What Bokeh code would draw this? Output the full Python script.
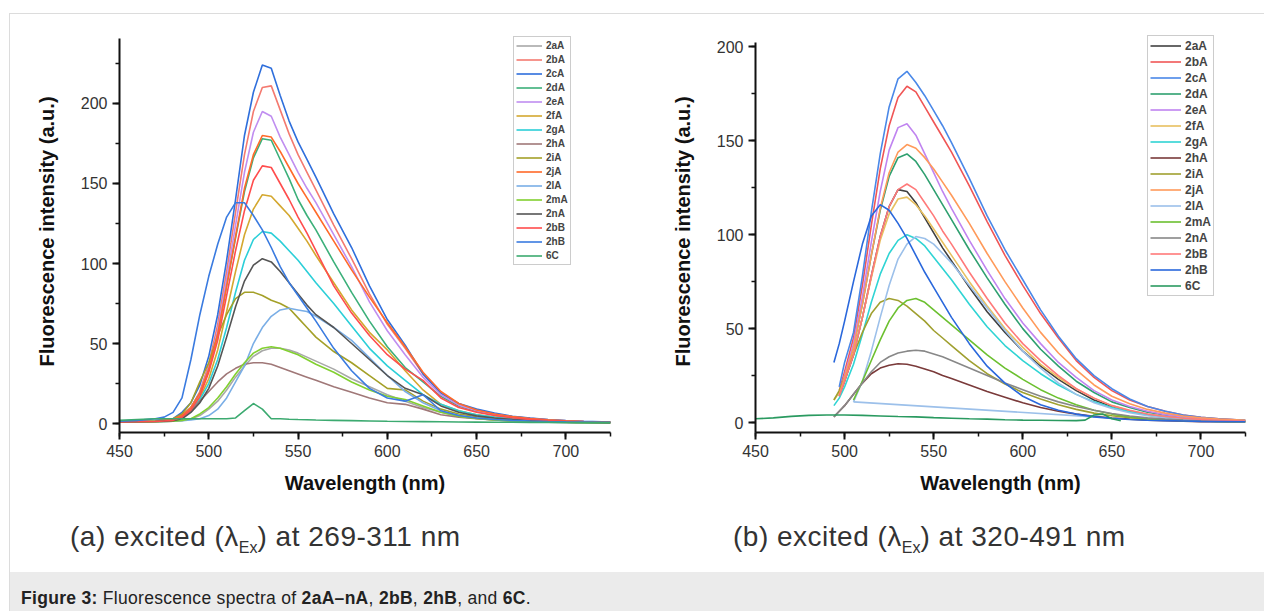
from bokeh.plotting import figure
from bokeh.models import Range1d, SingleIntervalTicker, Div, Spacer
from bokeh.layouts import row, column
from bokeh.embed import file_html
from bokeh.resources import INLINE

nan = float("nan")

# ---------------- data: panel (a), excitation 269-311 nm ----------------
wl_a = [450, 460, 470, 475, 480, 485, 490, 495, 500, 505, 510, 515, 520, 525, 530,
        535, 540, 545, 550, 555, 560, 570, 580, 590, 600, 610, 620, 630, 640,
        650, 660, 670, 680, 690, 700, 710, 725]
a_2aA = [1, 1, 1.1, 1.2, 1.4, 1.8, 2.8, 5, 9, 14, 21, 29, 36, 42, 45.5,
         47, 47, 46, 44, 41.5, 39, 34, 28, 23, 18, 14, 10, 7, 4.5,
         3.2, 2.3, 1.7, 1.3, 1, 0.8, 0.6, 0.5]
a_2bA = [1.2, 1.3, 1.5, 2, 2.5, 5, 10, 20, 37, 62, 95, 132, 168, 195, 210,
         211, 196, 181, 168, 157, 146, 124, 103, 81, 62, 47, 31, 19, 12,
         8.5, 6, 4.3, 3.2, 2.4, 1.7, 1.3, 1.0]
a_2cA = [1.5, 1.5, 2, 2.5, 3, 7, 13, 24, 42, 68, 102, 140, 180, 207, 224,
         222, 205, 189, 176, 165, 154, 131, 110, 86, 65, 49, 31, 19, 12.5,
         9, 6.5, 4.5, 3.4, 2.5, 1.8, 1.4, 1.0]
a_2dA = [1, 1.2, 1.5, 2, 2.5, 5, 10, 19, 34, 56, 86, 116, 145, 166, 178,
         177, 165, 153, 140, 130, 121, 101, 82, 64, 48, 35, 26, 17, 11,
         7.5, 5.3, 3.8, 2.8, 2, 1.5, 1.1, 0.8]
a_2eA = [1.2, 1.3, 1.5, 2, 2.5, 5, 10, 19, 35, 58, 90, 124, 157, 182, 195,
         192, 179, 168, 157, 147, 138, 118, 98, 76, 58, 43, 29, 18, 11.5,
         8, 5.7, 4.1, 3, 2.2, 1.6, 1.2, 0.9]
a_2fA = [1, 1.1, 1.3, 1.6, 2, 4, 8, 16, 28, 46, 70, 95, 118, 134, 143,
         142, 136, 130, 122, 114, 105, 88, 71, 57, 46, 33, 21, 12, 8,
         5.5, 4, 2.9, 2.1, 1.6, 1.2, 0.9, 0.7]
a_2gA = [1, 1.1, 1.4, 1.8, 2.5, 4, 8, 15, 25, 40, 60, 82, 102, 115, 120,
         119, 114, 108, 102, 95, 88, 75, 61, 47, 36, 27, 18, 12, 8,
         5.5, 4, 2.9, 2.1, 1.6, 1.2, 0.9, 0.7]
a_2hA = [1, 1.1, 1.3, 1.5, 2, 4, 8, 14, 20, 26, 31, 34.5, 37, 38, 38,
         37, 35, 33, 31, 29, 27, 23, 19.5, 16, 13, 12, 9, 5.5, 4,
         3, 2.2, 1.6, 1.2, 0.9, 0.7, 0.5, 0.4]
a_2iA = [1, 1.2, 1.6, 2, 3, 6, 13, 26, 38, 55, 68, 78, 82, 82, 80,
         77, 75, 72, 66, 60, 54, 45, 38, 30, 22, 21, 14, 9, 6,
         4.2, 3, 2.2, 1.6, 1.2, 0.9, 0.7, 0.5]
a_2jA = [1, 1.2, 1.5, 2, 2.5, 5, 10, 19, 34, 56, 86, 117, 147, 168, 180,
         179, 170, 160, 150, 141, 132, 114, 96, 79, 63, 48, 32, 20, 12.5,
         8.5, 6, 4.3, 3.1, 2.3, 1.7, 1.3, 1.0]
a_2lA = [1, 1, 1.2, 1.3, 1.5, 1.8, 2.2, 3, 5, 9, 16, 26, 36, 50, 60,
         67, 71, 72, 71, 70, 67, 60, 52, 41, 30, 20, 13, 8, 5,
         3.5, 2.5, 1.8, 1.3, 1, 0.8, 0.6, 0.5]
a_2mA = [1, 1, 1.2, 1.3, 1.5, 2, 3, 6, 10, 16, 23, 31, 38, 44, 47,
         48, 47, 45, 43, 40, 37, 32, 26, 21, 17, 15, 11, 7, 4.5,
         3.2, 2.3, 1.7, 1.3, 1, 0.8, 0.6, 0.5]
a_2nA = [1, 1.1, 1.3, 1.5, 1.8, 3, 7, 13, 22, 36, 54, 73, 89, 99, 103,
         101, 95, 88, 81, 74, 68, 60, 50, 40, 30, 22, 18, 11, 7,
         4.8, 3.5, 2.6, 1.9, 1.4, 1.1, 0.8, 0.6]
a_2bB = [1, 1.1, 1.3, 1.6, 2, 4, 8.5, 17, 32, 52, 80, 108, 133, 152, 161,
         160, 150, 140, 129, 119, 108, 86, 69, 55, 43, 34, 27, 16, 10,
         7, 5, 3.6, 2.6, 1.9, 1.4, 1.1, 0.8]
a_2hB = [1.5, 2, 3, 4, 7, 16, 40, 68, 92, 112, 129, 138, 138, 130, 121,
         110, 98, 88, 80, 72, 64, 47, 33, 22, 16, 14, 18, 8, 5,
         3.5, 2.5, 2, 1.6, 1.3, 1.1, 1, 0.8]
a_6C = [2, 2.5, 3, 3, 3, 3, 3, 3, 3, 3, 3, 3.5, 8, 12.5, 9,
        3, 3, 2.7, 2.5, 2.4, 2.2, 2, 1.8, 1.6, 1.4, 1.3, 1.2, 1.1, 1,
        0.9, 0.8, 0.8, 0.7, 0.7, 0.6, 0.6, 0.6]

# ---------------- data: panel (b), excitation 320-491 nm ----------------
wl_b = [494, 497, 500, 505, 510, 515, 520, 525, 530, 535, 540, 545, 550, 555, 560,
        570, 580, 590, 600, 610, 620, 630, 640, 650, 660, 670, 680, 690, 700, 710, 725]
b_2aA = [nan, 14, 22, 36, 56, 78, 99, 115, 124, 123, 117, 109, 101, 93, 86,
         72, 59, 48, 38, 30, 23, 17, 12, 8.5, 6, 4.2, 3, 2.1, 1.5, 1.1, 0.7]
b_2bA = [nan, 17, 27, 45, 73, 105, 135, 158, 173, 179, 176, 168, 160, 152, 144,
         126, 107, 89, 73, 58, 45, 33, 24, 17, 12, 8.5, 6, 4, 2.8, 2, 1.2]
b_2cA = [nan, 19, 32, 48, 78, 112, 143, 168, 183, 187, 181, 174, 166, 158, 149,
         130, 110, 92, 76, 60, 46, 34, 25, 18, 12.5, 8.5, 6, 4, 2.8, 2, 1.2]
b_2dA = [nan, 15, 24, 40, 63, 89, 113, 131, 141, 143, 139, 132, 124, 116, 108,
         92, 77, 63, 50, 39, 30, 22, 16, 11, 8, 5.5, 4, 2.8, 2, 1.5, 1]
b_2eA = [nan, 16, 25, 42, 67, 96, 123, 145, 157, 159, 153, 143, 133, 123, 114,
         97, 81, 66, 53, 42, 32, 24, 17, 12, 8.5, 6, 4.2, 3, 2.2, 1.6, 1]
b_2fA = [12, 16, 23, 37, 56, 77, 97, 111, 119, 120, 116, 110, 103, 96, 89,
         75, 62, 50, 40, 31, 24, 18, 13, 9, 6.3, 4.4, 3.1, 2.2, 1.6, 1.1, 0.7]
b_2gA = [9, 13, 19, 31, 47, 64, 79, 90, 97, 100, 98, 94, 88, 82, 76,
         63, 51, 41, 33, 26, 20, 15, 11, 8, 5.7, 4, 2.8, 2, 1.4, 1, 0.7]
b_2hA = [3, 6, 9, 15, 21, 26, 29, 30.5, 31.3, 31, 30, 28.5, 27, 25, 23.5,
         20, 16.5, 13.5, 10.5, 8, 6, 4.5, 3.3, 2.4, 1.8, 1.3, 1, 0.7, 0.5, 0.4, 0.3]
b_2iA = [12, 17, 24, 36, 48, 58, 64, 66, 65, 62, 58, 54, 49, 45, 41,
         33, 26, 20.5, 16, 12.5, 9.5, 7, 5, 3.6, 2.6, 1.9, 1.4, 1, 0.8, 0.6, 0.4]
b_2jA = [nan, 15, 24, 40, 63, 89, 114, 133, 144, 148, 146, 141, 135, 128, 121,
         106, 90, 75, 61, 48, 37, 28, 20, 14, 10, 7, 5, 3.5, 2.5, 1.8, 1.2]
b_2lA = [nan, nan, nan, 11, 22, 38, 56, 73, 87, 95, 99, 98, 95, 90, 85,
         73, 61, 49, 38, 29, 21, 15, 10.5, 7.5, 5.2, 3.6, 2.5, 1.8, 1.3, 0.9, 0.6]
b_2lA_return_wl = [640, 505]
b_2lA_return = [3, 11]
b_2mA = [nan, nan, nan, 12, 22, 33, 44, 54, 61, 65, 66, 64, 60, 56, 52,
         44, 36, 29, 23, 17.5, 13, 9.5, 6.5, 4.5, 3, 2.1, 1.5, 1.1, 0.8, 0.6, 0.4]
b_2nA = [3, 6, 9, 15, 21, 27, 32, 35, 37, 38, 38.5, 38, 36.5, 35, 33,
         29, 25, 21, 17.5, 14, 11, 8.5, 6.5, 4.8, 3.5, 2.5, 1.8, 1.3, 1, 0.7, 0.5]
b_2bB = [nan, 14, 22, 36, 56, 78, 99, 115, 124, 127, 124, 117, 110, 102, 95,
         80, 66, 53, 42, 33, 25, 18, 13, 9, 6.5, 4.5, 3.2, 2.3, 1.7, 1.2, 0.8]
b_2hB = [32, 42, 54, 75, 95, 110, 116, 113, 106, 98, 89, 80, 72, 64, 56,
         42, 30, 21, 14, 9.5, 6.5, 4.5, 3, 2.2, 1.6, 1.2, 1, 0.8, 0.6, 0.5, 0.4]
wl_b_6C = [450, 460, 470, 480, 490, 500, 510, 520, 530, 540, 550, 560, 570, 580,
           590, 600, 610, 620, 630, 635, 640, 645, 650, 655]
b_6C = [2, 2.5, 3.3, 3.8, 4, 4, 3.8, 3.5, 3.2, 3, 2.6, 2.3, 2, 1.8,
        1.5, 1.3, 1.2, 1.1, 1, 1.3, 4, 4.5, 2, 1]

names = ["2aA", "2bA", "2cA", "2dA", "2eA", "2fA", "2gA", "2hA", "2iA", "2jA",
         "2lA", "2mA", "2nA", "2bB", "2hB", "6C"]
colors_a = ["#a8a8a8", "#f47a70", "#2f6fdc", "#3cb07a", "#c08ef0", "#d4a830",
            "#2ccfd8", "#a07878", "#a4a028", "#ff6a2a", "#7aaee6", "#82d030",
            "#555555", "#ff4d4d", "#3a7be0", "#3caa70"]
colors_b = ["#404040", "#f05656", "#4a88e8", "#2fa070", "#c084f0", "#e8c060",
            "#30d4d4", "#7a3a3a", "#a0a030", "#ff9a5a", "#9cc0ea", "#6cc030",
            "#888888", "#ff7a7a", "#2a68dc", "#2a9a60"]

series_a = [a_2aA, a_2bA, a_2cA, a_2dA, a_2eA, a_2fA, a_2gA, a_2hA, a_2iA, a_2jA,
            a_2lA, a_2mA, a_2nA, a_2bB, a_2hB, a_6C]
series_b = [b_2aA, b_2bA, b_2cA, b_2dA, b_2eA, b_2fA, b_2gA, b_2hA, b_2iA, b_2jA,
            b_2lA, b_2mA, b_2nA, b_2bB, b_2hB]

FONT = "Liberation Sans"


def style(p, ybounds):
    p.xaxis.axis_label = "Wavelength (nm)"
    p.yaxis.axis_label = "Fluorescence intensity (a.u.)"
    p.xaxis.ticker = SingleIntervalTicker(interval=50, num_minor_ticks=2)
    p.yaxis.ticker = SingleIntervalTicker(interval=50, num_minor_ticks=2)
    p.yaxis.bounds = ybounds
    for ax in (p.xaxis, p.yaxis):
        ax.axis_line_width = 2
        ax.axis_line_color = "#111111"
        ax.major_tick_line_width = 2
        ax.major_tick_line_color = "#111111"
        ax.minor_tick_line_width = 1.5
        ax.minor_tick_line_color = "#111111"
        ax.major_tick_out = 7
        ax.major_tick_in = 0
        ax.minor_tick_out = 4
        ax.minor_tick_in = 0
        ax.major_label_text_font = FONT
        ax.major_label_text_font_size = "16px"
        ax.major_label_text_color = "#333333"
        ax.major_label_standoff = 5
        ax.axis_label_text_font = FONT
        ax.axis_label_text_font_style = "bold"
        ax.axis_label_text_font_size = "20px"
        ax.axis_label_text_color = "#111111"
    p.xaxis.axis_label_standoff = 12
    p.yaxis.axis_label_standoff = 20
    p.xgrid.visible = False
    p.ygrid.visible = False
    p.outline_line_color = None
    p.background_fill_color = "white"
    p.border_fill_color = "white"


def style_legend(p, loc, fsize, lh, gw, pad):
    lg = p.legend[0]
    lg.location = loc
    lg.label_text_font = FONT
    lg.label_text_font_style = "bold"
    lg.label_text_font_size = fsize
    lg.label_height = lh
    lg.glyph_height = lh
    lg.glyph_width = gw
    lg.label_standoff = 4
    lg.spacing = 1
    lg.padding = pad
    lg.margin = 0
    lg.border_line_color = "#9a9a9a"
    lg.border_line_width = 1
    lg.background_fill_alpha = 1


# panel (a): page x 10..651, frame x 119..610, y 30..432 (axis line to 240.6 only)
pa = figure(width=641, height=490, output_backend="svg", toolbar_location=None,
            x_range=Range1d(450, 725), y_range=Range1d(-5.6, 245.6),
            min_border_left=109, min_border_right=41, min_border_top=16,
            min_border_bottom=72)
style(pa, (-5.6, 240.6))
for nm, col, ys in zip(names, colors_a, series_a):
    pa.line(wl_a, ys, line_color=col, line_width=1.6, legend_label=nm)
style_legend(pa, (394, 167), "10px", 13, 26, 2)

# panel (b): page x 651..1264, frame x 755..1245, y 30..432 (axis line to 202.3 only)
pb = figure(width=613, height=490, output_backend="svg", toolbar_location=None,
            x_range=Range1d(450, 725), y_range=Range1d(-5.3, 208.7),
            min_border_left=104, min_border_right=19, min_border_top=16,
            min_border_bottom=72)
style(pb, (-5.3, 202.3))
for i, (nm, col) in enumerate(zip(names, colors_b)):
    if nm == "6C":
        pb.line(wl_b_6C, b_6C, line_color=col, line_width=1.6, legend_label=nm)
    else:
        pb.line(wl_b, series_b[i], line_color=col, line_width=1.6, legend_label=nm)
        if nm == "2lA":
            pb.line(b_2lA_return_wl, b_2lA_return, line_color=col, line_width=1.6)
style_legend(pb, (392, 136), "12px", 15, 31, 2)

sub_css = ("font-family:'Liberation Sans',Arial,sans-serif;font-size:28px;color:#333;"
           "letter-spacing:0.5px;line-height:32px;white-space:nowrap;padding-top:17px;")
sub_span = "<span style='font-size:16px;position:relative;top:7px;letter-spacing:0'>Ex</span>"
div_a = Div(width=641, height=68, margin=0,
            text=f"<div style=\"{sub_css}padding-left:60px\">(a) excited (&lambda;{sub_span}) at 269-311 nm</div>")
div_b = Div(width=613, height=68, margin=0,
            text=f"<div style=\"{sub_css}padding-left:82px\">(b) excited (&lambda;{sub_span}) at 320-491 nm</div>")
caption = Div(width=1254, height=39, margin=0, styles={"background-color": "#ebebeb"},
              text="<div style=\"font-family:'Liberation Sans',Arial,sans-serif;font-size:17.5px;"
                   "letter-spacing:0.3px;color:#222;padding:14px 0 0 11px;white-space:nowrap\"><b>Figure 3:</b> "
                   "Fluorescence spectra of <b>2aA&ndash;nA</b>, <b>2bB</b>, <b>2hB</b>, and <b>6C</b>.</div>")

framed = column(row(pa, pb), row(div_a, div_b), caption,
                styles={"border-top": "1px solid #dcdcdc", "border-left": "1px solid #dcdcdc",
                        "background-color": "white"})
layout = column(Spacer(height=13), row(Spacer(width=9), framed))

open("out.html", "w").write(file_html(layout, INLINE))
